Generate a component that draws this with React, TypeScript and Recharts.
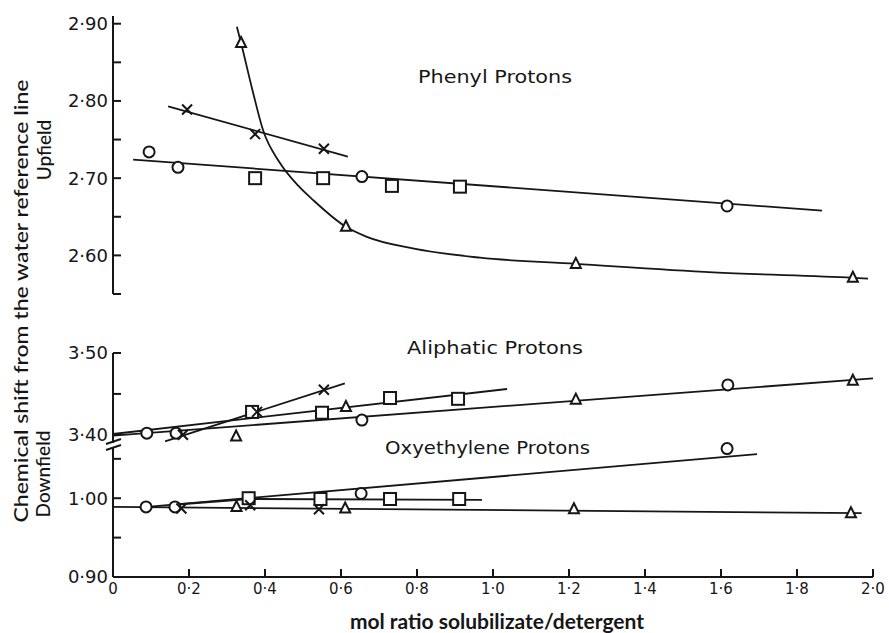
import React from 'react';
import { ComposedChart, Line, Scatter, XAxis, YAxis, Label } from 'recharts';

type Pt = { x: number; y: number };
type Kind = 'circle' | 'square' | 'triangle' | 'cross';

const INK = '#161616';
const TICK_FONT = '"DejaVu Sans", sans-serif';
const TITLE_FONT = 'Lato, "Open Sans", sans-serif';

// mol ratio axis
const xTicks = [0, 0.2, 0.4, 0.6, 0.8, 1.0, 1.2, 1.4, 1.6, 1.8, 2.0];

// Phenyl protons (upfield)
const phenylTicks = [2.55, 2.6, 2.65, 2.7, 2.75, 2.8, 2.85, 2.9];
const phenylCircles: Pt[] = [
  { x: 0.095, y: 2.734 }, { x: 0.171, y: 2.714 }, { x: 0.655, y: 2.702 }, { x: 1.616, y: 2.664 },
];
const phenylSquares: Pt[] = [
  { x: 0.374, y: 2.7 }, { x: 0.553, y: 2.7 }, { x: 0.734, y: 2.69 }, { x: 0.913, y: 2.689 },
];
const phenylCrosses: Pt[] = [{ x: 0.195, y: 2.789 }, { x: 0.374, y: 2.757 }, { x: 0.555, y: 2.738 }];
const phenylTriangles: Pt[] = [
  { x: 0.337, y: 2.875 }, { x: 0.613, y: 2.637 }, { x: 1.218, y: 2.589 }, { x: 1.947, y: 2.571 },
];
const phenylCircleFit: Pt[] = [{ x: 0.053, y: 2.724 }, { x: 1.866, y: 2.658 }];
const phenylCrossFit: Pt[] = [{ x: 0.145, y: 2.793 }, { x: 0.618, y: 2.728 }];
// hand drawn curve through the triangles
const phenylTriangleCurve: Pt[] = [
  { x: 0.326, y: 2.896 }, { x: 0.337, y: 2.875 }, { x: 0.368, y: 2.812 }, { x: 0.395, y: 2.762 },
  { x: 0.439, y: 2.72 }, { x: 0.488, y: 2.69 }, { x: 0.526, y: 2.672 }, { x: 0.613, y: 2.637 },
  { x: 0.668, y: 2.624 }, { x: 0.789, y: 2.609 }, { x: 0.966, y: 2.597 }, { x: 1.218, y: 2.589 },
  { x: 1.579, y: 2.578 }, { x: 1.947, y: 2.571 }, { x: 1.987, y: 2.57 },
];

// Aliphatic protons (downfield)
const aliphaticTicks = [3.4, 3.45, 3.5];
const aliphaticCircles: Pt[] = [
  { x: 0.089, y: 3.402 }, { x: 0.166, y: 3.402 }, { x: 0.655, y: 3.418 }, { x: 1.618, y: 3.461 },
];
const aliphaticSquares: Pt[] = [
  { x: 0.366, y: 3.428 }, { x: 0.55, y: 3.427 }, { x: 0.729, y: 3.445 }, { x: 0.908, y: 3.444 },
];
const aliphaticCrosses: Pt[] = [{ x: 0.184, y: 3.4 }, { x: 0.379, y: 3.428 }, { x: 0.555, y: 3.455 }];
const aliphaticTriangles: Pt[] = [
  { x: 0.324, y: 3.398 }, { x: 0.613, y: 3.434 }, { x: 1.218, y: 3.443 }, { x: 1.947, y: 3.466 },
];
const aliphaticCircleFit: Pt[] = [{ x: 0, y: 3.399 }, { x: 2.0, y: 3.469 }];
const aliphaticSquareFit: Pt[] = [{ x: 0, y: 3.401 }, { x: 1.037, y: 3.456 }];
const aliphaticCrossFit: Pt[] = [{ x: 0.137, y: 3.392 }, { x: 0.61, y: 3.463 }];

// Oxyethylene protons (downfield)
const oxyTicks = [0.9, 0.95, 1.0, 1.05];
const oxyCircles: Pt[] = [
  { x: 0.087, y: 0.989 }, { x: 0.163, y: 0.989 }, { x: 0.653, y: 1.006 }, { x: 1.616, y: 1.063 },
];
const oxySquares: Pt[] = [
  { x: 0.357, y: 1.0 }, { x: 0.546, y: 0.999 }, { x: 0.729, y: 0.999 }, { x: 0.911, y: 0.999 },
];
const oxyCrosses: Pt[] = [{ x: 0.18, y: 0.987 }, { x: 0.361, y: 0.991 }, { x: 0.542, y: 0.986 }];
const oxyTriangles: Pt[] = [
  { x: 0.325, y: 0.989 }, { x: 0.611, y: 0.987 }, { x: 1.213, y: 0.986 }, { x: 1.942, y: 0.981 },
];
const oxyCircleFit: Pt[] = [{ x: 0.09, y: 0.989 }, { x: 1.695, y: 1.056 }];
const oxySquareFit: Pt[] = [{ x: 0.17, y: 0.992 }, { x: 0.357, y: 0.999 }, { x: 0.971, y: 0.998 }];
const oxyTriangleFit: Pt[] = [{ x: 0, y: 0.989 }, { x: 1.97, y: 0.981 }];

const fmtY = (v: number) =>
  Math.abs(v * 10 - Math.round(v * 10)) < 1e-6 ? v.toFixed(2).replace('.', '·') : '';
const fmtX = (v: number) => (v === 0 ? '0' : v.toFixed(1).replace('.', '·'));

const mark = (kind: Kind) => (props: any) => {
  const { cx, cy } = props;
  if (cx == null || cy == null) return <g />;
  const s = { fill: '#fff', stroke: INK, strokeWidth: 2 };
  if (kind === 'circle') return <circle cx={cx} cy={cy} r={5.5} {...s} />;
  if (kind === 'square') return <rect x={cx - 6} y={cy - 6} width={12} height={12} {...s} />;
  if (kind === 'triangle')
    return <polygon points={`${cx},${cy - 6} ${cx - 5},${cy + 4} ${cx + 5},${cy + 4}`} {...s} />;
  return (
    <path
      d={`M${cx - 5},${cy - 5}L${cx + 5},${cy + 5}M${cx + 5},${cy - 5}L${cx - 5},${cy + 5}`}
      stroke={INK}
      strokeWidth={2}
      fill="none"
    />
  );
};

interface PanelProps {
  top: number;
  height: number;
  margin: { top: number; right: number; bottom: number; left: number };
  domain: [number, number];
  ticks: number[];
  fits: { data: Pt[]; curve?: boolean }[];
  marks: { kind: Kind; data: Pt[] }[];
  showX?: boolean;
}

const Panel = ({ top, height, margin, domain, ticks, fits, marks, showX }: PanelProps) => (
  <div style={{ position: 'absolute', left: 0, top }}>
    <ComposedChart width={889} height={height} margin={margin}>
      <XAxis
        type="number"
        dataKey="x"
        domain={[0, 2]}
        ticks={xTicks}
        interval={0}
        hide={!showX}
        height={56}
        tickSize={-8}
        tickMargin={14}
        tickFormatter={fmtX}
        axisLine={{ stroke: INK, strokeWidth: 2 }}
        tickLine={{ stroke: INK, strokeWidth: 2 }}
        tick={{ fill: INK, fontSize: 15, fontFamily: TICK_FONT }}
      >
        {showX && (
          <Label
            value="mol ratio solubilizate/detergent"
            position="insideBottom"
            offset={4}
            dx={4}
            fill={INK}
            style={{ fontFamily: TITLE_FONT, fontSize: 21, fontWeight: 700 }}
          />
        )}
      </XAxis>
      <YAxis
        type="number"
        dataKey="y"
        width={60}
        domain={domain}
        ticks={ticks}
        interval={0}
        tickSize={-8}
        tickMargin={13}
        tickFormatter={fmtY}
        axisLine={{ stroke: INK, strokeWidth: 2 }}
        tickLine={{ stroke: INK, strokeWidth: 2 }}
        tick={{ fill: INK, fontSize: 18, fontFamily: TICK_FONT }}
      />
      {fits.map((f, i) => (
        <Line
          key={'f' + i}
          data={f.data}
          dataKey="y"
          type={f.curve ? 'monotone' : 'linear'}
          stroke={INK}
          strokeWidth={1.8}
          dot={false}
          activeDot={false}
          isAnimationActive={false}
        />
      ))}
      {marks.map((m, i) => (
        <Scatter key={'m' + i} data={m.data} dataKey="y" shape={mark(m.kind)} isAnimationActive={false} />
      ))}
    </ComposedChart>
  </div>
);

export default function App() {
  return (
    <div style={{ position: 'absolute', left: 0, top: 0, width: 889, height: 633, background: '#fff' }}>
      <Panel
        top={0}
        height={296}
        margin={{ top: 16, right: 16, bottom: 2, left: 53 }}
        domain={[2.55, 2.91]}
        ticks={phenylTicks}
        fits={[
          { data: phenylCircleFit },
          { data: phenylCrossFit },
          { data: phenylTriangleCurve, curve: true },
        ]}
        marks={[
          { kind: 'circle', data: phenylCircles },
          { kind: 'square', data: phenylSquares },
          { kind: 'cross', data: phenylCrosses },
          { kind: 'triangle', data: phenylTriangles },
        ]}
      />
      <Panel
        top={340}
        height={105}
        margin={{ top: 13, right: 16, bottom: 2, left: 53 }}
        domain={[3.39, 3.5]}
        ticks={aliphaticTicks}
        fits={[{ data: aliphaticCircleFit }, { data: aliphaticSquareFit }, { data: aliphaticCrossFit }]}
        marks={[
          { kind: 'circle', data: aliphaticCircles },
          { kind: 'square', data: aliphaticSquares },
          { kind: 'cross', data: aliphaticCrosses },
          { kind: 'triangle', data: aliphaticTriangles },
        ]}
      />
      <Panel
        top={437}
        height={196}
        margin={{ top: 10, right: 16, bottom: 0, left: 53 }}
        domain={[0.9, 1.065]}
        ticks={oxyTicks}
        showX
        fits={[{ data: oxyCircleFit }, { data: oxySquareFit }, { data: oxyTriangleFit }]}
        marks={[
          { kind: 'circle', data: oxyCircles },
          { kind: 'square', data: oxySquares },
          { kind: 'cross', data: oxyCrosses },
          { kind: 'triangle', data: oxyTriangles },
        ]}
      />
      <svg
        width={889}
        height={633}
        style={{ position: 'absolute', left: 0, top: 0, pointerEvents: 'none' }}
      >
        <g fill={INK} fontFamily={TITLE_FONT} fontSize={20} fontWeight={500}>
          <text transform="translate(28,301) rotate(-90)" textAnchor="middle" textLength={443} lengthAdjust="spacingAndGlyphs">
            Chemical shift from the water reference line
          </text>
          <text transform="translate(51,150) rotate(-90)" textAnchor="middle" fontSize={19}>
            Upfield
          </text>
          <text transform="translate(50,474) rotate(-90)" textAnchor="middle" fontSize={19}>
            Downfield
          </text>
        </g>
        <g fill={INK} fontFamily={TICK_FONT} fontSize={18}>
          <text x={418} y={83} textLength={154} lengthAdjust="spacingAndGlyphs">Phenyl Protons</text>
          <text x={407} y={354} textLength={176} lengthAdjust="spacingAndGlyphs">Aliphatic Protons</text>
          <text x={385} y={454} textLength={205} lengthAdjust="spacingAndGlyphs">Oxyethylene Protons</text>
        </g>
        {/* axis break */}
        <g stroke={INK} strokeWidth={2}>
          <line x1={106} y1={444} x2={121} y2={439} />
          <line x1={106} y1={450} x2={121} y2={445} />
        </g>
      </svg>
    </div>
  );
}
